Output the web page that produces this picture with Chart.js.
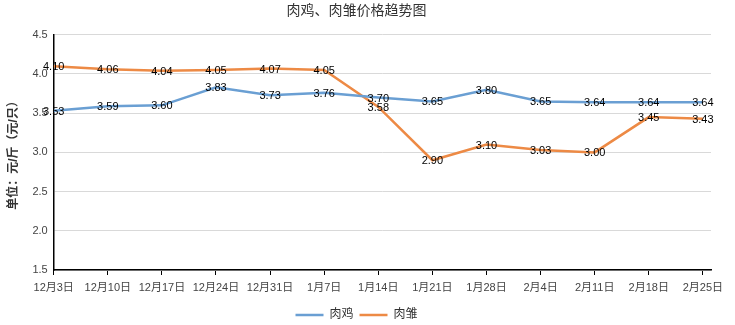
<!DOCTYPE html>
<html>
<head>
<meta charset="utf-8">
<script src="https://cdn.jsdelivr.net/npm/chart.js@4/dist/chart.umd.min.js"></script>
<style>
  html, body { margin: 0; padding: 0; background: #fff; }
  #wrap { width: 735px; height: 325px; }
</style>
</head>
<body>
<div id="wrap"><canvas id="price-trend" width="735" height="325"></canvas></div>
<script>
const dates = ['12月3日', '12月10日', '12月17日', '12月24日', '12月31日', '1月7日', '1月14日',
  '1月21日', '1月28日', '2月4日', '2月11日', '2月18日', '2月25日'];
const broiler = [3.53, 3.59, 3.60, 3.83, 3.73, 3.76, 3.70, 3.65, 3.80, 3.65, 3.64, 3.64, 3.64];
const chick = [4.10, 4.06, 4.04, 4.05, 4.07, 4.05, 3.58, 2.90, 3.10, 3.03, 3.00, 3.45, 3.43];
const yTicks = [1.5, 2.0, 2.5, 3.0, 3.5, 4.0, 4.5];

const FONT = '"Liberation Sans", "Noto Sans CJK SC", sans-serif';

// value text printed on top of every point
const valueLabels = {
  id: 'valueLabels',
  afterDatasetsDraw(chart) {
    const {ctx} = chart;
    ctx.save();
    ctx.font = '11px ' + FONT;
    ctx.fillStyle = '#000';
    ctx.textAlign = 'center';
    ctx.textBaseline = 'middle';
    chart.data.datasets.forEach((ds, i) => {
      chart.getDatasetMeta(i).data.forEach((pt, j) => {
        ctx.fillText(ds.data[j].y.toFixed(2), pt.x, pt.y + 1);
      });
    });
    ctx.restore();
  }
};

const toPoints = arr => arr.map((v, i) => ({x: i, y: v}));

new Chart(document.getElementById('price-trend'), {
  type: 'line',
  data: {
    datasets: [
      {
        label: '肉鸡',
        data: toPoints(broiler),
        borderColor: '#6a9fd3',
        backgroundColor: '#6a9fd3',
        borderWidth: 2.5,
        pointRadius: 0,
        tension: 0
      },
      {
        label: '肉雏',
        data: toPoints(chick),
        borderColor: '#ed8a45',
        backgroundColor: '#ed8a45',
        borderWidth: 2.5,
        pointRadius: 0,
        tension: 0
      }
    ]
  },
  options: {
    responsive: false,
    animation: false,
    layout: { padding: { left: 2, right: 24, top: 0, bottom: -6 } },
    plugins: {
      title: {
        display: true,
        text: '肉鸡、肉雏价格趋势图',
        color: '#333',
        font: { family: FONT, size: 14, weight: 'normal' },
        padding: { top: 3, bottom: 15 }
      },
      legend: {
        position: 'bottom',
        labels: {
          usePointStyle: true,
          pointStyle: 'line',
          pointStyleWidth: 28,
          color: '#333',
          font: { family: FONT, size: 12 },
          padding: 6
        }
      },
      tooltip: { enabled: false }
    },
    scales: {
      x: {
        type: 'linear',
        min: 0,
        max: 12.15,
        afterBuildTicks: axis => {
          axis.ticks = dates.map((d, i) => ({value: i}));
        },
        afterFit: axis => {
          axis.height = 33;
        },
        ticks: {
          color: '#444',
          font: { family: FONT, size: 11 },
          maxRotation: 0,
          autoSkip: false,
          padding: 6,
          callback: v => dates[v]
        },
        grid: { drawOnChartArea: false, drawTicks: true, tickLength: 5, color: '#000' },
        border: { color: '#000', width: 1.5 }
      },
      y: {
        min: 1.5,
        max: 4.5,
        afterBuildTicks: axis => {
          axis.ticks = yTicks.map(v => ({value: v}));
        },
        ticks: {
          color: '#444',
          font: { family: FONT, size: 11 },
          padding: 6,
          callback: v => v.toFixed(1)
        },
        grid: { color: '#d9d9d9', drawTicks: false },
        border: { color: '#000', width: 1.5 },
        title: {
          display: true,
          text: '单位：元/斤（元/只）',
          color: '#333',
          font: { family: FONT, size: 12, weight: 'bold' },
          padding: { bottom: 6 }
        }
      }
    }
  },
  plugins: [valueLabels]
});
</script>
</body>
</html>
